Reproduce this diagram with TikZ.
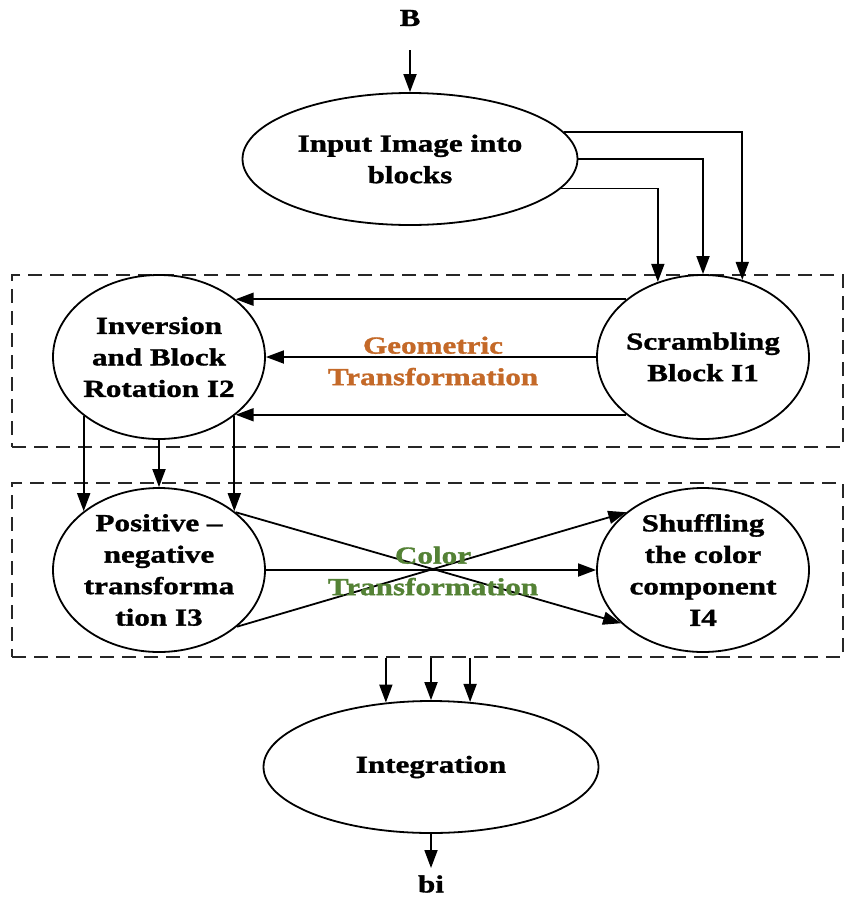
\documentclass[tikz,border=0pt]{standalone}
\usepackage{fontspec}
\setmainfont{Liberation Serif}[FakeStretch=1.27,FakeBold=1.2]
\usetikzlibrary{shapes.geometric,arrows.meta,calc}
\definecolor{geo}{RGB}{196,105,40}
\definecolor{col}{RGB}{84,130,53}
\begin{document}
\begin{tikzpicture}[x=1pt,y=-1pt,
  every node/.style={font=\fontsize{24.5}{31.5}\selectfont\bfseries},
  oval/.style={draw, ellipse, line width=1.8pt, inner sep=0pt, minimum width=212pt, minimum height=164pt},
  wide/.style={draw, ellipse, line width=1.8pt, inner sep=0pt, minimum width=335pt, minimum height=132pt},
  txt/.style={align=center, inner sep=0pt},
  arr/.style={line width=1.8pt, -{Triangle[length=18pt,width=13pt]}},
  dbox/.style={draw=black!85, line width=1.8pt, dash pattern=on 14pt off 8pt, rectangle, inner sep=0pt},
]
\path[fill=white] (0,0) rectangle (844,897);
\useasboundingbox (0,0) rectangle (844,897);

% dashed group boxes
\node[dbox, minimum width=831pt, minimum height=172pt] (box1) at (427.5,361) {};
\node[dbox, minimum width=831pt, minimum height=174pt] (box2) at (427.5,570) {};

% nodes
\node (bnode) at (410,18) {B};
\coordinate (bstart) at (410,50);
\node[wide, label={[txt]center:{Input Image into\\blocks}}] (inp) at (410,159) {};
\node[oval, label={[txt]center:{Scrambling\\Block I1}}] (i1) at (703,357) {};
\node[oval, label={[txt]center:{Inversion\\and Block\\Rotation I2}}] (i2) at (159,357) {};
\node[oval, label={[txt]center:{Positive –\\negative\\transforma\\tion I3}}] (i3) at (159,570) {};
\node[oval, label={[txt]center:{Shuffling\\the color\\component\\I4}}] (i4) at (703,570) {};
\node[wide, label={[txt]center:Integration}] (integ) at (431,767) {};
\node (bi) at (431,884) {bi};
\coordinate (biend) at (431,868);

\node[txt, text=geo] (geotxt) at (433,361) {Geometric\\Transformation};

% arrows
\draw[arr] (bstart) -- (inp.north);
\draw[arr] (inp.10) -| (i1.63);
\draw[arr] (inp.east) -| (i1.north);
\draw[arr] (inp.-11) -| (i1.121);

\draw[arr] (i1.143) -- (i2.37);
\draw[arr] (i1.west) -- (i2.east);
\draw[arr] (i1.217) -- (i2.-37);

\draw[arr] (i2.218) -- (i3.142);
\draw[arr] (i2.south) -- (i3.north);
\draw[arr] (i2.-38) -- (i3.38);

\draw[arr] (i3.east) -- (i4.west);
\draw[arr] (i3.37) -- (i4.213);
\draw[arr] (i3.-36) -- (i4.143);

\node[txt, text=col] (coltxt) at (433,571) {Color\\Transformation};

\draw[arr] (integ.125 |- box2.south) -- (integ.125);
\draw[arr] (integ.north |- box2.south) -- (integ.north);
\draw[arr] (integ.59 |- box2.south) -- (integ.59);
\draw[arr] (integ.south) -- (biend);
\end{tikzpicture}
\end{document}
